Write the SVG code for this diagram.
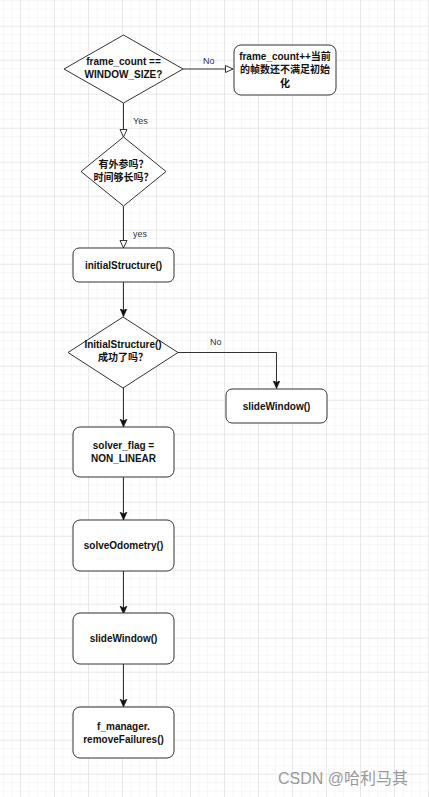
<svg xmlns="http://www.w3.org/2000/svg" width="429" height="797" viewBox="0 0 429 797">
<style>
.shape{fill:#fff;stroke:#333;stroke-width:1}
.t{font-family:"Liberation Sans","Noto Sans CJK SC",sans-serif;font-size:10px;font-weight:bold;fill:#111;text-anchor:middle}
.lbl{font-family:"Liberation Sans",sans-serif;font-size:9px;fill:#2a3450}
.ln{fill:none;stroke:#333;stroke-width:1}
</style>
<defs>
<pattern id="minor" patternUnits="userSpaceOnUse" width="8.5" height="8.5" x="20" y="25.7">
<path d="M0,0 H8.5 M0,0 V8.5" fill="none" stroke="#efefef" stroke-width="1"/>
</pattern>
<pattern id="major" patternUnits="userSpaceOnUse" width="34" height="34" x="20" y="25.7">
<path d="M0,0 H34 M0,0 V34" fill="none" stroke="#dcdcdc" stroke-width="1"/>
</pattern>
<marker id="open" markerWidth="10" markerHeight="10" refX="8" refY="4" orient="auto" markerUnits="userSpaceOnUse">
<path d="M0.5,0.5 L8,4 L0.5,7.5 Z" fill="#fff" stroke="#333" stroke-width="1"/>
</marker>
<marker id="fill" markerWidth="10" markerHeight="10" refX="8" refY="4" orient="auto" markerUnits="userSpaceOnUse">
<path d="M0,0.5 L8,4 L0,7.5 L2,4 Z" fill="#111" stroke="#111" stroke-width="0.6"/>
</marker>
</defs>
<rect width="429" height="797" fill="#fff"/>
<rect width="429" height="797" fill="url(#minor)"/>
<rect width="429" height="797" fill="url(#major)"/>

<g id="connectors">
<path class="ln" d="M183,69 H233" marker-end="url(#open)"/>
<text class="lbl" x="203" y="64">No</text>
<path class="ln" d="M123.5,103 V137" marker-end="url(#open)"/>
<text class="lbl" x="133" y="124">Yes</text>
<path class="ln" d="M123.5,206 V248" marker-end="url(#open)"/>
<text class="lbl" x="133" y="237">yes</text>
<path class="ln" d="M123.5,282 V316.5" marker-end="url(#fill)"/>
<path class="ln" d="M178,352.5 H276.5 V388.5" marker-end="url(#fill)"/>
<text class="lbl" x="210" y="345">No</text>
<path class="ln" d="M123.5,388 V427" marker-end="url(#fill)"/>
<path class="ln" d="M123.5,477 V520" marker-end="url(#fill)"/>
<path class="ln" d="M123.5,571 V614" marker-end="url(#fill)"/>
<path class="ln" d="M123.5,664 V707" marker-end="url(#fill)"/>
</g>

<g id="d1">
<path class="shape" d="M123.5,35 L183,69 L123.5,103 L64,69 Z"/>
<text class="t" x="123.5" y="65">frame_count ==</text>
<text class="t" x="123.5" y="78">WINDOW_SIZE?</text>
</g>
<g id="b1">
<rect class="shape" x="234" y="45" width="102" height="50" rx="7"/>
<text class="t" x="285" y="60">frame_count++当前</text>
<text class="t" x="285" y="73">的帧数还不满足初始</text>
<text class="t" x="285" y="87">化</text>
</g>
<g id="d2">
<path class="shape" d="M123.5,137 L166,171.5 L123.5,206 L81,171.5 Z"/>
<text class="t" x="123.5" y="168">有外参吗？</text>
<text class="t" x="123.5" y="181">时间够长吗？</text>
</g>
<g id="b2">
<rect class="shape" x="73" y="248" width="101" height="34" rx="6"/>
<text class="t" x="123.5" y="268.5">initialStructure()</text>
</g>
<g id="d3">
<path class="shape" d="M123,317 L178,352.5 L123,388 L68,352.5 Z"/>
<text class="t" x="123" y="348">InitialStructure()</text>
<text class="t" x="123" y="361">成功了吗？</text>
</g>
<g id="b3">
<rect class="shape" x="226" y="389" width="101" height="34" rx="6"/>
<text class="t" x="276.5" y="409.5">slideWindow()</text>
</g>
<g id="b4">
<rect class="shape" x="73" y="427" width="101" height="50" rx="7"/>
<text class="t" x="123.5" y="449">solver_flag =</text>
<text class="t" x="123.5" y="462">NON_LINEAR</text>
</g>
<g id="b5">
<rect class="shape" x="73" y="520" width="101" height="51" rx="7"/>
<text class="t" x="123.5" y="549">solveOdometry()</text>
</g>
<g id="b6">
<rect class="shape" x="73" y="613" width="101" height="51" rx="7"/>
<text class="t" x="123.5" y="642">slideWindow()</text>
</g>
<g id="b7">
<rect class="shape" x="73" y="707" width="101" height="51" rx="7"/>
<text class="t" x="123.5" y="730">f_manager.</text>
<text class="t" x="123.5" y="743">removeFailures()</text>
</g>
<text x="278" y="784" font-family="Liberation Sans,'Noto Sans CJK SC',sans-serif" font-size="16" fill="#9a9a9a">CSDN @哈利马其</text>
</svg>
